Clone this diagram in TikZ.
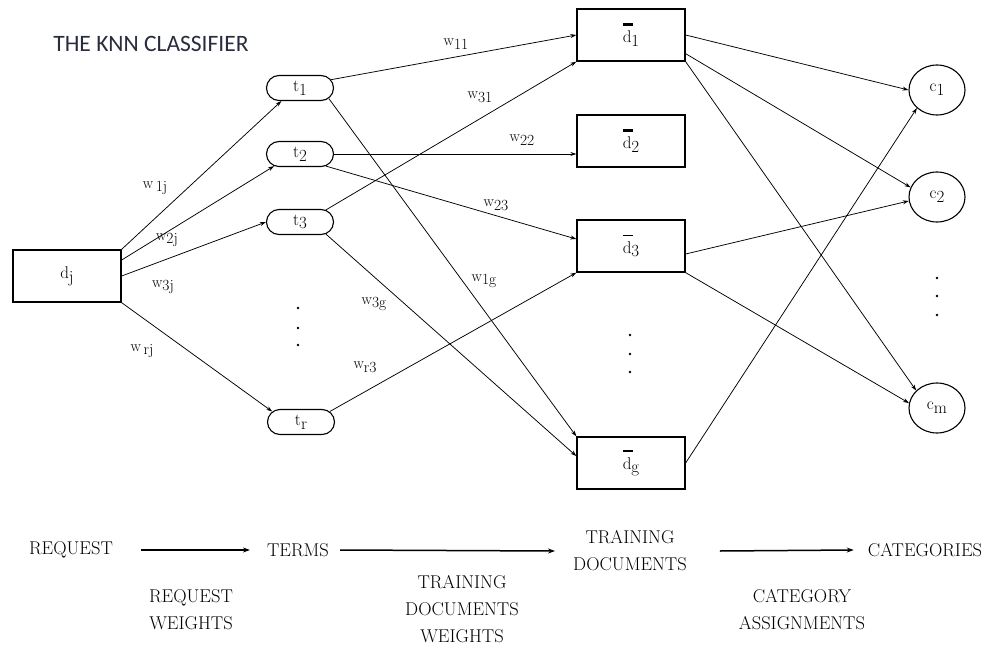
\documentclass[tikz,border=0pt]{standalone}
\usepackage{fontspec}
\newfontfamily\titlefont{Carlito}
\usetikzlibrary{shapes.misc,shapes.geometric,arrows.meta,calc}
\newcommand{\sbs}[2]{#1\raisebox{-0.5ex}{#2}}
\newcommand{\dbar}[2][2.6pt]{\makebox[0pt][l]{\raisebox{17pt}{\rule{10pt}{#1}}}\sbs{d}{#2}}
\definecolor{titleink}{RGB}{40,44,60}
\begin{document}
\begin{tikzpicture}[x=1pt,y=-1pt,
  lab/.style={font=\fontsize{17}{20}\selectfont},
  wl/.style={font=\fontsize{15.5}{18}\selectfont, inner sep=0pt},
  box/.style={draw, line width=1.3pt, minimum width=108pt, minimum height=52pt, inner sep=0pt, lab},
  term/.style={draw, rounded rectangle, line width=1.1pt, minimum width=67pt, minimum height=25pt, inner sep=0pt, lab},
  cat/.style={draw, ellipse, line width=1.1pt, minimum width=56pt, minimum height=50pt, inner sep=0pt, lab},
  edge/.style={line width=0.75pt, -{Stealth[length=6pt,width=4pt]}},
  flow/.style={line width=1.5pt, -{Stealth[length=7pt,width=5pt]}},
  bt/.style={font=\fontsize{18.5}{27}\selectfont, inner sep=0pt, align=center},
  dotm/.style={fill=black}
]
\useasboundingbox (0,0) rectangle (989,648);

% title
\node[font=\titlefont\fontsize{23.5}{26}\selectfont, inner sep=0pt, text=titleink] (title) at (151,44) {THE KNN CLASSIFIER};

% request
\node[box] (dj) at (67,276) {\sbs{d}{j}};

% terms
\node[term] (t1) at (300,88) {\sbs{t}{1}};
\node[term] (t2) at (300,154) {\sbs{t}{2}};
\node[term] (t3) at (300,222) {\sbs{t}{3}};
\node[term] (tr) at (301,422) {\sbs{t}{r}};

% training documents
\node[box] (d1) at (631,35) {\dbar{1}};
\node[box] (d2) at (631,141) {\dbar{2}};
\node[box] (d3) at (631,246) {\dbar[1.2pt]{3}};
\node[box] (dg) at (631,463) {\dbar{g}};

% categories
\node[cat] (c1) at (937,90) {\sbs{c}{1}};
\node[cat] (c2) at (937,197) {\sbs{c}{2}};
\node[cat] (cm) at (937,408) {\sbs{c}{m}};

% dots
\foreach \yy in {308,328,345} \fill[dotm] (298,\yy) circle (1.3pt);
\foreach \yy in {335,354,372} \fill[dotm] (630,\yy) circle (1.3pt);
\foreach \yy in {278,296,315} \fill[dotm] (937,\yy) circle (1.3pt);

% request -> terms
\draw[edge] (dj.north east) -- (t1.215);
\draw[edge] ($(dj.north east)!0.2!(dj.south east)$) -- (t2.205);
\draw[edge] (dj.east) -- (t3.west);
\draw[edge] (dj.south east) -- (tr.160);

% terms -> documents
\draw[edge] (t1.15) -- (d1.west);
\draw[edge] (t1.340) -- (dg.north west);
\draw[edge] (t2.east) -- (t2.east -| d2.west);
\draw[edge] (t2.335) -- ($(d3.north west)!0.37!(d3.south west)$);
\draw[edge] (t3.25) -- (d1.south west);
\draw[edge] (t3.335) -- ($(dg.north west)!0.37!(dg.south west)$);
\draw[edge] (tr.20) -- (d3.south west);

% documents -> categories
\draw[edge] (d1.east) -- (c1.west);
\draw[edge] ($(d1.north east)!0.85!(d1.south east)$) -- (c2.160);
\draw[edge] (d1.south east) -- (cm.140);
\draw[edge] ($(d3.north east)!0.65!(d3.south east)$) -- (c2.188);
\draw[edge] (d3.south east) -- (cm.170);
\draw[edge] (dg.east) -- (c1.222);

% weight labels
\node[wl] (w1j) at (155,188) {w\,\raisebox{-0.5ex}{1j}};
\node[wl] (w2j) at (167,240) {\sbs{w}{2j}};
\node[wl] (w3j) at (163,287) {\sbs{w}{3j}};
\node[wl] (wrj) at (142,351) {w\,\raisebox{-0.5ex}{rj}};
\node[wl] (w11) at (456,44) {\sbs{w}{11}};
\node[wl] (w31) at (480,97) {\sbs{w}{31}};
\node[wl] (w22) at (522,140) {\sbs{w}{22}};
\node[wl] (w23) at (496,205) {\sbs{w}{23}};
\node[wl] (w1g) at (484,281) {\sbs{w}{1g}};
\node[wl] (w3g) at (374,304) {\sbs{w}{3g}};
\node[wl] (wr3) at (365,367) {\sbs{w}{r3}};

% bottom flow
\node[bt] (req) at (71,550) {REQUEST};
\node[bt] (terms) at (298,550) {TERMS};
\node[bt] (train) at (630,551) {TRAINING\\DOCUMENTS};
\node[bt] (cats) at (925,550) {CATEGORIES};
\node[bt] (rw) at (191,610) {REQUEST\\WEIGHTS};
\node[bt] (tdw) at (462,609) {TRAINING\\DOCUMENTS\\WEIGHTS};
\node[bt] (ca) at (802,610) {CATEGORY\\ASSIGNMENTS};

\draw[flow] ([xshift=28pt]req.east) -- ([xshift=-17pt]terms.west);
\draw[flow] ([xshift=11pt]terms.east) -- ([xshift=-18pt]train.west);
\draw[flow] ([xshift=33pt]train.east) -- ([xshift=-14pt]cats.west);
\end{tikzpicture}
\end{document}
